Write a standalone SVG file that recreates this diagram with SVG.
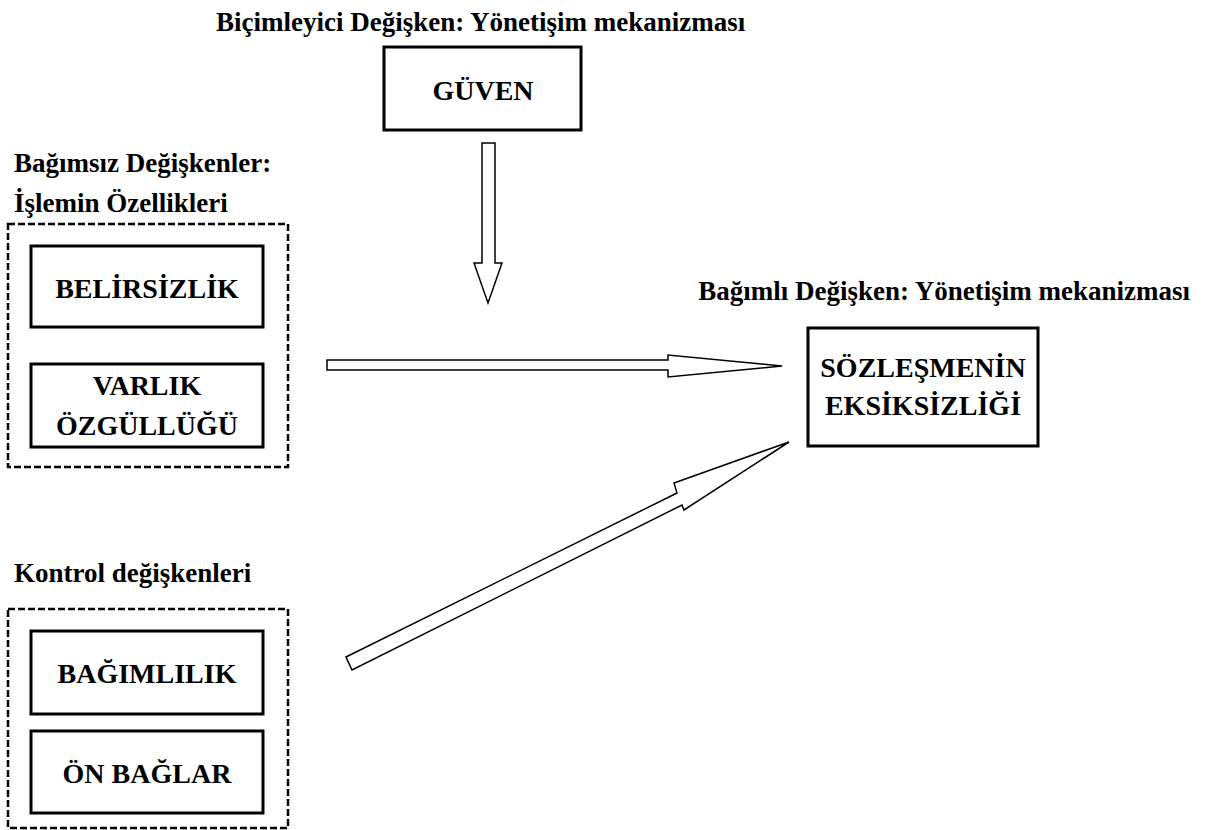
<svg xmlns="http://www.w3.org/2000/svg" width="1205" height="830" viewBox="0 0 1205 830">
<style>
text{font-family:"Liberation Serif","Times New Roman",serif;font-weight:bold;fill:#000}
.lbl{font-size:27px}
.nt{font-size:28px;text-anchor:middle}
.box{fill:#fff;stroke:#000;stroke-width:3}
.grp{fill:none;stroke:#000;stroke-width:2.5;stroke-dasharray:7,3}
.arr{fill:#fff;stroke:#000;stroke-width:1.5;stroke-linejoin:miter}
</style>
<rect width="1205" height="830" fill="#fff"/>
<text class="lbl" x="216" y="31">Biçimleyici Değişken: Yönetişim mekanizması</text>
<text class="lbl" x="14" y="172">Bağımsız Değişkenler:</text>
<text class="lbl" x="14" y="212">İşlemin Özellikleri</text>
<text class="lbl" x="1190" y="300" text-anchor="end">Bağımlı Değişken: Yönetişim mekanizması</text>
<text class="lbl" x="14" y="582">Kontrol değişkenleri</text>
<g id="grp-independent"><rect class="grp" x="8" y="224" width="280" height="243"/></g>
<g id="grp-control"><rect class="grp" x="8" y="609" width="280" height="219"/></g>
<g id="guven"><rect class="box" x="384" y="47" width="197" height="83"/><text class="nt" x="483" y="100">GÜVEN</text></g>
<g id="belirsizlik"><rect class="box" x="31" y="246" width="232" height="81"/><text class="nt" x="147" y="298">BELİRSİZLİK</text></g>
<g id="varlik"><rect class="box" x="31" y="364" width="232" height="83"/><text class="nt" x="147" y="395">VARLIK</text><text class="nt" x="147" y="435">ÖZGÜLLÜĞÜ</text></g>
<g id="bagimlilik"><rect class="box" x="31" y="631" width="232" height="83"/><text class="nt" x="147" y="683">BAĞIMLILIK</text></g>
<g id="onbaglar"><rect class="box" x="31" y="731" width="232" height="82"/><text class="nt" x="147" y="783">ÖN BAĞLAR</text></g>
<g id="sozlesme"><rect class="box" x="808" y="328" width="230" height="118"/><text class="nt" x="923" y="377">SÖZLEŞMENİN</text><text class="nt" x="923" y="415">EKSİKSİZLİĞİ</text></g>
<g id="connectors">
<polygon class="arr" points="482,143 495,143 495,263 502,263 488,303 474,263 482,263"/>
<polygon class="arr" points="327,360 668,360 668,355 782,366 668,377 668,370 327,370"/>
<polygon class="arr" points="346,657 677,493 674,483 789,442 684,510 682,505 352,670"/>
</g>
</svg>
